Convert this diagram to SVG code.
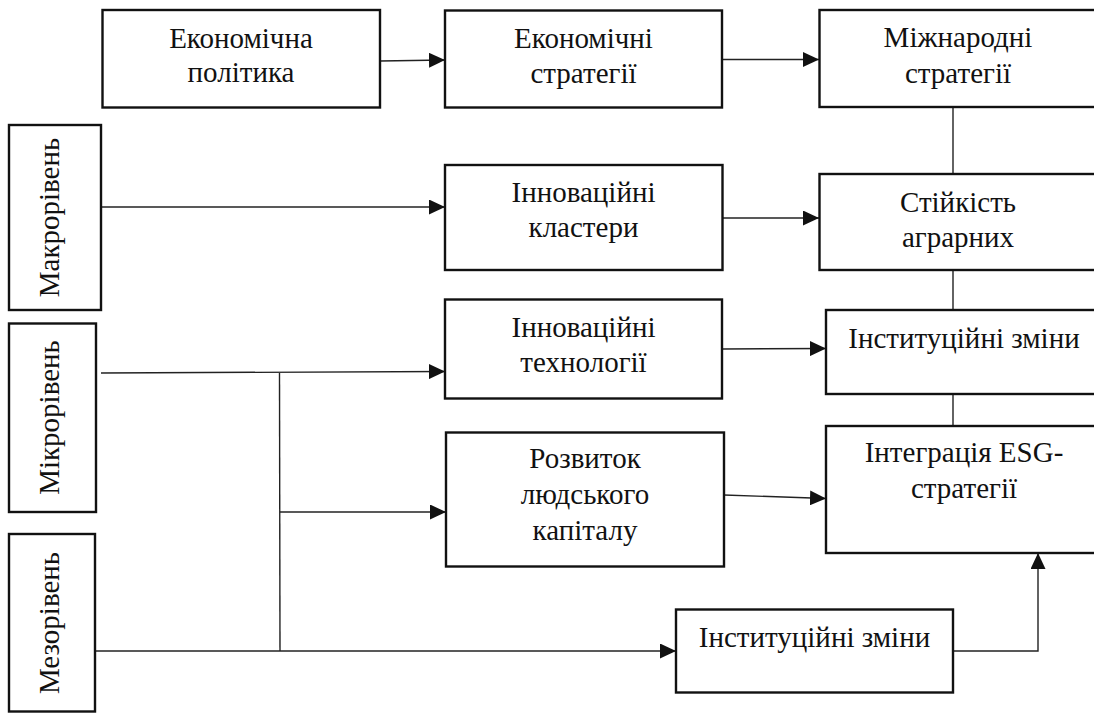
<svg xmlns="http://www.w3.org/2000/svg" width="1094" height="713" viewBox="0 0 1094 713">
  <style>
    .box { fill: #ffffff; stroke: #111111; stroke-width: 2.4; }
    .lbl { font-family: 'Liberation Serif', 'Times New Roman', serif; font-size: 29px; fill: #111111; text-anchor: middle; }
    .con { fill: none; stroke: #222222; stroke-width: 1.4; }
  </style>
  <defs>
    <marker id="arr" markerUnits="userSpaceOnUse" markerWidth="16" markerHeight="15" refX="16" refY="7.5" orient="auto">
      <path d="M0,0 L16,7.5 L0,15 z" fill="#111111"/>
    </marker>
  </defs>
  <rect x="0" y="0" width="1094" height="713" fill="#ffffff"/>

  <g id="connectors">
    <line class="con" x1="380" y1="61" x2="445" y2="60" marker-end="url(#arr)"/>
    <line class="con" x1="722" y1="59.5" x2="819" y2="59.5" marker-end="url(#arr)"/>
    <line class="con" x1="101" y1="207" x2="445" y2="207" marker-end="url(#arr)"/>
    <line class="con" x1="722" y1="218" x2="819" y2="218" marker-end="url(#arr)"/>
    <line class="con" x1="722" y1="349" x2="826" y2="348.5" marker-end="url(#arr)"/>
    <line class="con" x1="724" y1="495" x2="826" y2="498.5" marker-end="url(#arr)"/>
    <line class="con" x1="101" y1="373" x2="445" y2="371.5" marker-end="url(#arr)"/>
    <line class="con" x1="279.5" y1="373" x2="280" y2="651"/>
    <line class="con" x1="280" y1="512" x2="446" y2="512" marker-end="url(#arr)"/>
    <line class="con" x1="95" y1="651" x2="676" y2="651" marker-end="url(#arr)"/>
    <polyline class="con" points="953,651 1038,651 1038,553" marker-end="url(#arr)"/>
    <line class="con" x1="953" y1="107" x2="953" y2="174"/>
    <line class="con" x1="953" y1="270" x2="953" y2="310"/>
    <line class="con" x1="953" y1="394" x2="953" y2="426"/>
  </g>

  <g id="econ-policy">
    <rect class="box" x="102.5" y="10" width="277.5" height="97.5"/>
    <text class="lbl" x="241" y="47.5">Економічна</text>
    <text class="lbl" x="241" y="82">політика</text>
  </g>
  <g id="econ-strategies">
    <rect class="box" x="445" y="10.5" width="277" height="97"/>
    <text class="lbl" x="583.5" y="47.5">Економічні</text>
    <text class="lbl" x="583.5" y="82.5">стратегії</text>
  </g>
  <g id="intl-strategies">
    <rect class="box" x="819.5" y="10" width="280" height="97"/>
    <text class="lbl" x="958" y="47">Міжнародні</text>
    <text class="lbl" x="958" y="82.5">стратегії</text>
  </g>
  <g id="macro">
    <rect class="box" x="9" y="125" width="92" height="185"/>
    <text class="lbl" transform="translate(59,217.5) rotate(-90)">Макрорівень</text>
  </g>
  <g id="clusters">
    <rect class="box" x="445" y="165" width="277.5" height="105"/>
    <text class="lbl" x="583.5" y="202">Інноваційні</text>
    <text class="lbl" x="583.5" y="237">кластери</text>
  </g>
  <g id="resilience">
    <rect class="box" x="819.5" y="174" width="280" height="96"/>
    <text class="lbl" x="958" y="211.5">Стійкість</text>
    <text class="lbl" x="958" y="247">аграрних</text>
  </g>
  <g id="technologies">
    <rect class="box" x="445" y="299.5" width="277" height="99"/>
    <text class="lbl" x="583.5" y="336.5">Інноваційні</text>
    <text class="lbl" x="583.5" y="371.5">технології</text>
  </g>
  <g id="inst-top">
    <rect class="box" x="826" y="310" width="280" height="84"/>
    <text class="lbl" x="964" y="347.5">Інституційні зміни</text>
  </g>
  <g id="micro">
    <rect class="box" x="9" y="323.5" width="87" height="188.5"/>
    <text class="lbl" transform="translate(59,417.5) rotate(-90)">Мікрорівень</text>
  </g>
  <g id="human-capital">
    <rect class="box" x="446" y="432.5" width="278" height="134"/>
    <text class="lbl" x="585" y="468">Розвиток</text>
    <text class="lbl" x="585" y="504">людського</text>
    <text class="lbl" x="585" y="540">капіталу</text>
  </g>
  <g id="esg">
    <rect class="box" x="826" y="426" width="280" height="127"/>
    <text class="lbl" x="964" y="462">Інтеграція ESG-</text>
    <text class="lbl" x="964" y="497.5">стратегії</text>
  </g>
  <g id="meso">
    <rect class="box" x="9" y="534" width="86" height="177.5"/>
    <text class="lbl" transform="translate(59,623) rotate(-90)">Мезорівень</text>
  </g>
  <g id="inst-bottom">
    <rect class="box" x="676" y="609.5" width="277" height="83"/>
    <text class="lbl" x="814.5" y="646.5">Інституційні зміни</text>
  </g>
</svg>
